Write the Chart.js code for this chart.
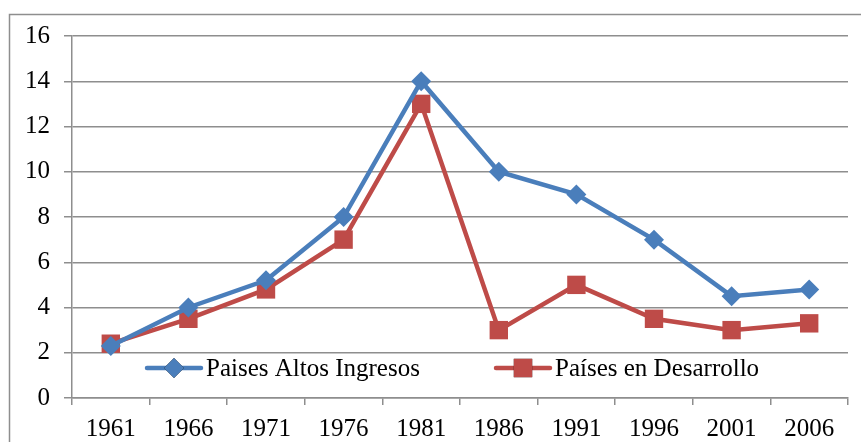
<!DOCTYPE html>
<html>
<head>
<meta charset="utf-8">
<script src="https://cdn.jsdelivr.net/npm/chart.js@4/dist/chart.umd.min.js"></script>
<style>
  body { margin: 0; background: #fff; }
  #wrap { width: 861px; height: 442px; position: relative; }
</style>
</head>
<body>
<div id="wrap"><canvas id="lineChart"></canvas></div>
<script>
var years = ["1961", "1966", "1971", "1976", "1981", "1986", "1991", "1996", "2001", "2006"];
var altosIngresos = [2.3, 4.0, 5.2, 8.0, 14.0, 10.0, 9.0, 7.0, 4.5, 4.8];
var enDesarrollo = [2.4, 3.5, 4.8, 7.0, 13.0, 3.0, 5.0, 3.5, 3.0, 3.3];
var seriesNames = ["Paises Altos Ingresos", "Países en Desarrollo"];

var fontFamily = "'Liberation Serif', 'Times New Roman', serif";
var gridColor = "#8e8e8e";

// outer frame + legend drawn inside the plot area
var framePlugin = {
  id: "frame",
  beforeDraw: function (chart) {
    var ctx = chart.ctx;
    ctx.save();
    ctx.strokeStyle = "#8e8e8e";
    ctx.lineWidth = 1.5;
    ctx.strokeRect(9.5, 14.5, 1000, 1000);
    ctx.restore();
  },
  afterDraw: function (chart) {
    var ctx = chart.ctx;
    var y = 368;
    var items = [
      { x: 147, ds: chart.data.datasets[0] },
      { x: 496, ds: chart.data.datasets[1] }
    ];
    ctx.save();
    items.forEach(function (it) {
      var ds = it.ds;
      ctx.strokeStyle = ds.borderColor;
      ctx.lineWidth = 4.5;
      ctx.lineCap = "round";
      ctx.beginPath();
      ctx.moveTo(it.x, y);
      ctx.lineTo(it.x + 54, y);
      ctx.stroke();
      Chart.helpers.drawPoint(ctx, {
        pointStyle: ds.pointStyle,
        radius: ds.pointRadius,
        borderWidth: 0,
        rotation: 0
      }, it.x + 27, y);
      ctx.fillStyle = ds.pointBackgroundColor;
      ctx.fill();
      ctx.fillStyle = "#000";
      ctx.font = "25px " + fontFamily;
      ctx.textBaseline = "middle";
      ctx.textAlign = "left";
      ctx.fillText(ds.label, it.x + 59, y + 1);
    });
    ctx.restore();
  }
};

var ctx = document.getElementById("lineChart").getContext("2d");

new Chart(ctx, {
  type: "line",
  data: {
    labels: years,
    datasets: [
      {
        label: seriesNames[0],
        data: altosIngresos,
        borderColor: "#4a7ebb",
        backgroundColor: "#4a7ebb",
        pointBackgroundColor: "#4a7ebb",
        pointBorderWidth: 0,
        borderWidth: 4.5,
        pointStyle: "rectRot",
        pointRadius: 10,
        tension: 0
      },
      {
        label: seriesNames[1],
        data: enDesarrollo,
        borderColor: "#be4b48",
        backgroundColor: "#be4b48",
        pointBackgroundColor: "#be4b48",
        pointBorderWidth: 0,
        borderWidth: 4.5,
        pointStyle: "rect",
        pointRadius: 13,
        tension: 0
      }
    ]
  },
  options: {
    responsive: true,
    maintainAspectRatio: false,
    animation: false,
    layout: {
      padding: { left: 0, right: 4, top: 36, bottom: 0 }
    },
    plugins: {
      legend: { display: false },
      tooltip: { enabled: false }
    },
    scales: {
      x: {
        offset: true,
        grid: {
          offset: true,
          drawOnChartArea: false,
          drawTicks: true,
          tickLength: 7,
          color: gridColor,
          lineWidth: 1.5
        },
        border: { color: gridColor, width: 1.5 },
        ticks: {
          color: "#000",
          padding: 9,
          maxRotation: 0,
          font: { family: fontFamily, size: 25 }
        },
        afterFit: function (scale) {
          scale.height = 44;
        }
      },
      y: {
        min: 0,
        max: 16,
        grid: {
          color: gridColor,
          lineWidth: 1.5,
          tickLength: 8
        },
        border: { color: gridColor, width: 1.5 },
        ticks: {
          stepSize: 2,
          color: "#000",
          padding: 14,
          font: { family: fontFamily, size: 25 }
        },
        afterFit: function (scale) {
          scale.width = 72;
        }
      }
    }
  },
  plugins: [framePlugin]
});
</script>
</body>
</html>
